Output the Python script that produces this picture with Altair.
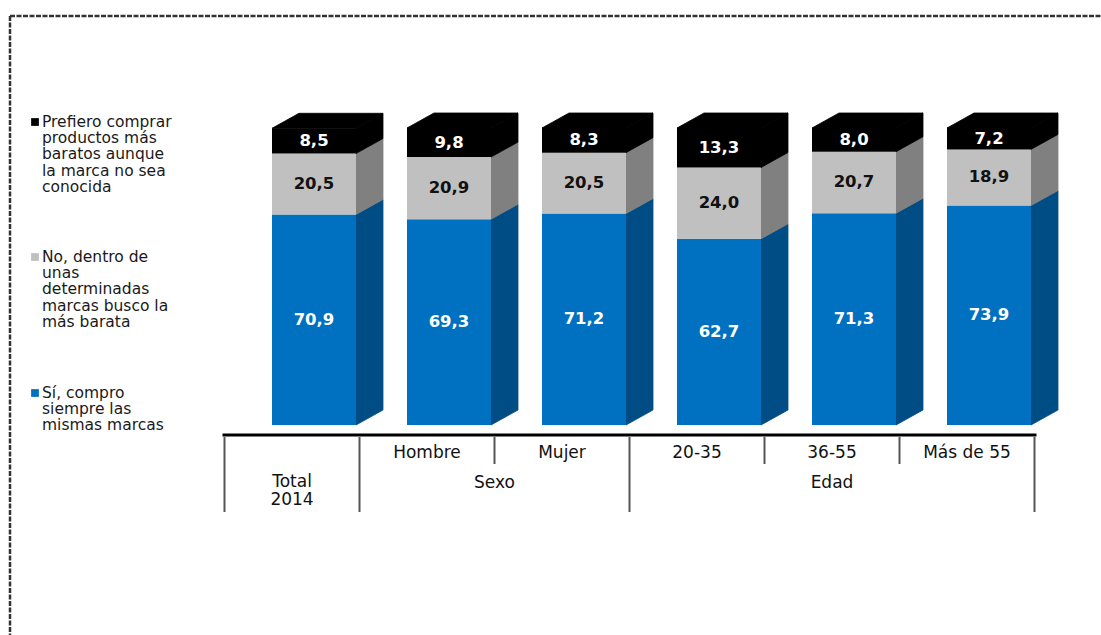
import altair as alt
import pandas as pd

# ---------------- data ----------------
categories = ["Total 2014", "Hombre", "Mujer", "20-35", "36-55", "Más de 55"]
si_mismas = [70.9, 69.3, 71.2, 62.7, 71.3, 73.9]
no_barata = [20.5, 20.9, 20.5, 24.0, 20.7, 18.9]
prefiero = [8.5, 9.8, 8.3, 13.3, 8.0, 7.2]

series_names = ["Sí", "No", "Prefiero"]
front_colors = ["#0070C0", "#C0C0C0", "#000000"]
side_colors = ["#004C84", "#808080", "#000000"]
label_colors = ["#FFFFFF", "#111111", "#FFFFFF"]

legend_texts = [
    ["Prefiero comprar", "productos más", "baratos aunque", "la marca no sea", "conocida"],
    ["No, dentro de", "unas", "determinadas", "marcas busco la", "más barata"],
    ["Sí, compro", "siempre las", "mismas marcas"],
]
legend_colors = ["#000000", "#C0C0C0", "#0070C0"]

row1_labels = ["", "Hombre", "Mujer", "20-35", "36-55", "Más de 55"]
group_labels = ["Sexo", "Edad"]
group_centers = [1.5, 4.0]  # category index centres of the groups

# ---------------- geometry (style) ----------------
W, H = 1101, 635
STEP = 135.0          # px per category
X0 = 314.0            # px of first bar centre
Y0 = 425.0            # px of value 0
PPU = 2.97            # px per percentage point
HALF = 42.0 / STEP    # half bar width in index units
DX = 27.0 / STEP      # 3-D depth x
DY = 15.0 / PPU       # 3-D depth y

xscale = alt.Scale(domain=[-X0 / STEP, (W - X0) / STEP], range=[0, W], nice=False, zero=False)
yscale = alt.Scale(domain=[(Y0 - H) / PPU, Y0 / PPU], range=[H, 0], nice=False, zero=False)

# ---------------- build tables ----------------
fronts, polys, labels = [], [], []
series_vals = [si_mismas, no_barata, prefiero]
for i, cat in enumerate(categories):
    base = 0.0
    for s, vals in enumerate(series_vals):
        v = vals[i]
        y0, y1 = base, base + v
        base = y1
        fronts.append(dict(cat=cat, i=i, s=s, xl=i - HALF, xr=i + HALF, y0=y0, y1=y1,
                           color=front_colors[s]))
        labels.append(dict(cat=cat, i=i, s=s, ym=(y0 + y1) / 2, txt=f"{v:.1f}".replace(".", ","),
                           tcolor=label_colors[s]))
        key = f"{i}-{s}-side"
        polys.append(dict(key=key, x=i + HALF, top=y1, bot=y0, color=side_colors[s]))
        polys.append(dict(key=key, x=i + HALF + DX, top=y1 + DY, bot=y0 + DY, color=side_colors[s]))
    # top face
    t = base
    key = f"{i}-top"
    polys.append(dict(key=key, x=i - HALF, top=t, bot=t, color="#000000"))
    polys.append(dict(key=key, x=i - HALF + DX, top=t + DY, bot=t, color="#000000"))
    polys.append(dict(key=key, x=i + HALF, top=t + DY, bot=t, color="#000000"))
    polys.append(dict(key=key, x=i + HALF + DX, top=t + DY, bot=t + DY, color="#000000"))

df_front = pd.DataFrame(fronts)
df_poly = pd.DataFrame(polys)
df_lab = pd.DataFrame(labels)

front = alt.Chart(df_front).mark_bar().encode(
    x=alt.X("xl:Q", scale=xscale, axis=None), x2="xr:Q",
    y=alt.Y("y0:Q", scale=yscale, axis=None), y2="y1:Q",
    color=alt.Color("color:N", scale=None),
)

faces = alt.Chart(df_poly).mark_area(interpolate="linear", opacity=1, strokeWidth=0.8).encode(
    x=alt.X("x:Q", scale=xscale, axis=None),
    y=alt.Y("top:Q", scale=yscale, axis=None, stack=None), y2="bot:Q",
    color=alt.Color("color:N", scale=None),
    stroke=alt.Stroke("color:N", scale=None),
    detail="key:N",
)

bar_labels = alt.Chart(df_lab).mark_text(
    font="DejaVu Sans", fontSize=16.5, fontWeight="bold", baseline="middle", align="center"
).encode(
    x=alt.X("i:Q", scale=xscale, axis=None),
    y=alt.Y("ym:Q", scale=yscale, axis=None),
    text="txt:N",
    color=alt.Color("tcolor:N", scale=None),
)

# ---------------- category table ----------------
TAB_DX = -22
TFONT = "DejaVu Sans"
TSIZE = 17
df_row1 = pd.DataFrame(dict(i=list(range(len(categories))), txt=row1_labels))
row1 = alt.Chart(df_row1).mark_text(
    font=TFONT, fontSize=TSIZE, align="center", baseline="middle", dx=TAB_DX, color="#111111"
).encode(x=alt.X("i:Q", scale=xscale, axis=None), y=alt.value(453), text="txt:N")

df_total = pd.DataFrame(dict(i=[0], txt=[categories[0]]))
total_lab = alt.Chart(df_total).mark_text(
    font=TFONT, fontSize=TSIZE, align="center", baseline="middle", dx=TAB_DX,
    color="#111111", lineBreak=" ", lineHeight=18
).encode(x=alt.X("i:Q", scale=xscale, axis=None), y=alt.value(482), text="txt:N")

df_groups = pd.DataFrame(dict(i=group_centers, txt=group_labels))
groups = alt.Chart(df_groups).mark_text(
    font=TFONT, fontSize=TSIZE, align="center", baseline="middle", dx=TAB_DX, color="#111111"
).encode(x=alt.X("i:Q", scale=xscale, axis=None), y=alt.value(483), text="txt:N")

bounds = [i - 0.5 for i in range(len(categories) + 1)]
full = [True, True, False, True, False, False, True]
df_b = pd.DataFrame(dict(b=bounds, full=full))
vfull = alt.Chart(df_b[df_b.full]).mark_rule(color="#555555", strokeWidth=2, xOffset=TAB_DX).encode(
    x=alt.X("b:Q", scale=xscale, axis=None), y=alt.value(437), y2=alt.value(512))
vshort = alt.Chart(df_b[~df_b.full]).mark_rule(color="#555555", strokeWidth=2, xOffset=TAB_DX).encode(
    x=alt.X("b:Q", scale=xscale, axis=None), y=alt.value(437), y2=alt.value(464))

hline = alt.Chart(pd.DataFrame(dict(a=[bounds[0]], b=[bounds[-1]]))).mark_rule(
    color="#000000", strokeWidth=3, xOffset=TAB_DX - 2, x2Offset=TAB_DX + 2
).encode(x=alt.X("a:Q", scale=xscale, axis=None), x2="b:Q", y=alt.value(435))

# ---------------- frame ----------------
frame_top = alt.Chart(pd.DataFrame(dict(k=[0]))).mark_rule(
    color="#333333", strokeWidth=2.5, strokeDash=[5, 1.5]
).encode(x=alt.value(10), x2=alt.value(W), y=alt.value(16))
frame_left = alt.Chart(pd.DataFrame(dict(k=[0]))).mark_rule(
    color="#333333", strokeWidth=2.5, strokeDash=[5, 1.5]
).encode(x=alt.value(10), y=alt.value(16), y2=alt.value(H))

# ---------------- legend ----------------
leg_y = [122, 257, 393]
leg_rows, leg_sq = [], []
for k, lines in enumerate(legend_texts):
    leg_sq.append(dict(k=k, y=leg_y[k], color=legend_colors[k]))
    for j, ln in enumerate(lines):
        leg_rows.append(dict(y=leg_y[k] + j * 16.2, txt=ln))
df_leg = pd.DataFrame(leg_rows)
df_sq = pd.DataFrame(leg_sq)
leg_text = alt.Chart(df_leg).mark_text(
    font="DejaVu Sans", fontSize=15.5, align="left", baseline="middle", color="#1a1a1a"
).encode(x=alt.value(42), y=alt.Y("y:Q", scale=None), text="txt:N")
leg_marks = alt.Chart(df_sq).mark_square(size=60, opacity=1, filled=True).encode(
    x=alt.value(35), y=alt.Y("y:Q", scale=None), color=alt.Color("color:N", scale=None)
)

chart = alt.layer(
    frame_top, frame_left,
    faces, front, bar_labels,
    hline, vfull, vshort, row1, total_lab, groups,
    leg_marks, leg_text,
).properties(
    width=W, height=H, autosize=alt.AutoSizeParams(type="none"), padding=0,
    background="#FFFFFF"
).configure_view(stroke=None)

chart.save("out.html", embed_options={"renderer": "svg", "actions": False})
